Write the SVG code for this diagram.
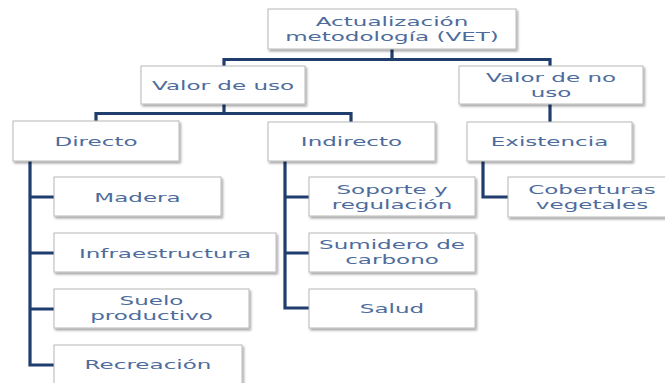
<svg xmlns="http://www.w3.org/2000/svg" width="665" height="383" viewBox="0 0 665 383">
<defs>
<filter id="sh" x="-10%" y="-10%" width="125%" height="140%">
<feDropShadow dx="1.5" dy="2" stdDeviation="1.2" flood-color="#000" flood-opacity="0.35"/>
</filter>
<style>
.box{fill:#fff;stroke:#b8b8b8;stroke-width:1;filter:url(#sh)}
.lbl{font-family:"DejaVu Sans",sans-serif;font-size:12.8px;fill:#4d6c9d;text-anchor:middle}
.con{fill:none;stroke:#1f3d6d;stroke-width:3.2;stroke-linejoin:miter}
</style>
</defs>
<rect width="665" height="383" fill="#fff"/>
<g id="connectors">
<path class="con" d="M392,49 V59.5 H224 V66 M392,59.5 H550 V66"/>
<path class="con" d="M224,104 V113.5 H96 V121 M224,113.5 H351 V122"/>
<path class="con" d="M550,104 V122"/>
<path class="con" d="M30,161 V365 H54 M30,197 H54 M30,253 H54 M30,309 H54"/>
<path class="con" d="M285,161 V308 H309 M285,197 H309 M285,253 H309"/>
<path class="con" d="M483,161 V197 H508"/>
</g>
<g id="root"><rect class="box" x="268" y="9" width="248" height="40"/>
<text class="lbl" transform="matrix(1.8 0 0 1 392 26)"><tspan x="0" y="0">Actualización</tspan><tspan x="0" y="15">metodología (VET)</tspan></text></g>
<g id="valor-uso"><rect class="box" x="141" y="66" width="164" height="38"/>
<text class="lbl" transform="matrix(1.8 0 0 1 223 90)">Valor de uso</text></g>
<g id="valor-no-uso"><rect class="box" x="459" y="66" width="184" height="38"/>
<text class="lbl" transform="matrix(1.8 0 0 1 551 82)"><tspan x="0" y="0">Valor de no</tspan><tspan x="0" y="15">uso</tspan></text></g>
<g id="directo"><rect class="box" x="13" y="121" width="166" height="40"/>
<text class="lbl" transform="matrix(1.8 0 0 1 96 146)">Directo</text></g>
<g id="indirecto"><rect class="box" x="268" y="122" width="167" height="39"/>
<text class="lbl" transform="matrix(1.8 0 0 1 351.5 146)">Indirecto</text></g>
<g id="existencia"><rect class="box" x="467" y="122" width="165" height="39"/>
<text class="lbl" transform="matrix(1.8 0 0 1 549.5 146)">Existencia</text></g>
<g id="madera"><rect class="box" x="54" y="177" width="167" height="39"/>
<text class="lbl" transform="matrix(1.8 0 0 1 137.5 202)">Madera</text></g>
<g id="infraestructura"><rect class="box" x="54" y="233" width="222" height="39"/>
<text class="lbl" transform="matrix(1.8 0 0 1 165 258)">Infraestructura</text></g>
<g id="suelo"><rect class="box" x="54" y="289" width="195" height="39"/>
<text class="lbl" transform="matrix(1.8 0 0 1 151.5 305)"><tspan x="0" y="0">Suelo</tspan><tspan x="0" y="15">productivo</tspan></text></g>
<g id="recreacion"><rect class="box" x="54" y="345" width="188" height="41"/>
<text class="lbl" transform="matrix(1.8 0 0 1 148 369)">Recreación</text></g>
<g id="soporte"><rect class="box" x="309" y="177" width="166" height="39"/>
<text class="lbl" transform="matrix(1.8 0 0 1 392 194)"><tspan x="0" y="0">Soporte y</tspan><tspan x="0" y="15">regulación</tspan></text></g>
<g id="sumidero"><rect class="box" x="309" y="233" width="166" height="39"/>
<text class="lbl" transform="matrix(1.8 0 0 1 392 249)"><tspan x="0" y="0">Sumidero de</tspan><tspan x="0" y="15">carbono</tspan></text></g>
<g id="salud"><rect class="box" x="309" y="289" width="166" height="39"/>
<text class="lbl" transform="matrix(1.8 0 0 1 392 313)">Salud</text></g>
<g id="coberturas"><rect class="box" x="508" y="177" width="162" height="40"/>
<text class="lbl" transform="matrix(1.8 0 0 1 592 194)"><tspan x="0" y="0">Coberturas</tspan><tspan x="0" y="15">vegetales</tspan></text></g>
</svg>
